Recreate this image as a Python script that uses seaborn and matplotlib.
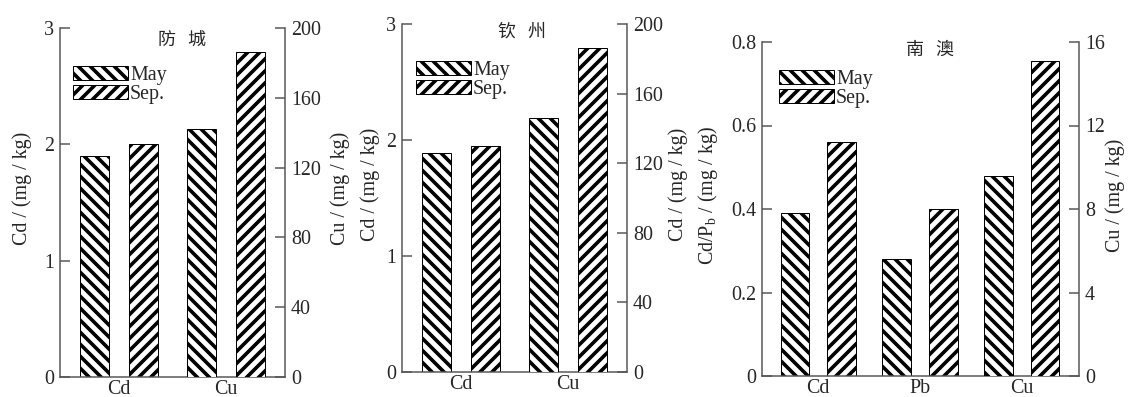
"""Cd / Pb / Cu content by site, May vs Sep., hatched twin-axis bars."""

import matplotlib

matplotlib.use("Agg")
import matplotlib.pyplot as plt
import pandas as pd
import seaborn as sns
from matplotlib.patches import Patch

# ---- data ----
months = ["May", "Sep."]

fc_elements = ["Cd", "Cu"]
fc_cd = [1.90, 2.00]
fc_cu = [142, 186]

qz_elements = ["Cd", "Cu"]
qz_cd = [1.89, 1.95]
qz_cu = [146, 186]

na_elements = ["Cd", "Pb", "Cu"]
na_cd = [0.39, 0.56]
na_pb = [0.28, 0.40]
na_cu = [9.6, 15.1]

titles = ["防   城", "钦   州", "南   澳"]
left_labels = ["Cd / (mg / kg)", "Cd / (mg / kg)", r"Cd/P$_{\rm b}$ / (mg / kg)"]
right_labels = ["Cu / (mg / kg)", "Cd / (mg / kg)", "Cu / (mg / kg)"]
left_ticks = [[0, 1, 2, 3], [0, 1, 2, 3], [0, 0.2, 0.4, 0.6, 0.8]]
left_ticklabels = [["0", "1", "2", "3"], ["0", "1", "2", "3"], ["0", "0.2", "0.4", "0.6", "0.8"]]
right_ticks = [[0, 40, 80, 120, 160, 200], [0, 40, 80, 120, 160, 200], [0, 4, 8, 12, 16]]

HATCHES = {"May": "\\\\", "Sep.": "//"}
GREY = "#555555"

sns.set_style("ticks")
plt.rcParams["font.family"] = ["Liberation Serif", "Noto Sans CJK SC"]
plt.rcParams["mathtext.fontset"] = "custom"
plt.rcParams["mathtext.rm"] = "Liberation Serif"
plt.rcParams["hatch.linewidth"] = 3.6
plt.rcParams["hatch.color"] = "black"

W, H, DPI = 1131, 397, 72
fig = plt.figure(figsize=(W / DPI, H / DPI), dpi=DPI)


def long_rows(element, values):
    return [(element, m, v) for m, v in zip(months, values)]


def frame(rows):
    return pd.DataFrame(rows, columns=["element", "month", "value"])


def draw_bars(ax, df, order):
    sns.barplot(
        data=df, x="element", y="value", hue="month", order=order, hue_order=months,
        palette={m: "white" for m in months}, saturation=1, width=0.92, gap=0.40,
        dodge=True, edgecolor="black", linewidth=1.0, errorbar=None, legend=False, ax=ax,
    )
    for container, m in zip(ax.containers, months):
        for bar in container:
            bar.set_hatch(HATCHES[m])


def panel(i, box, left_df, right_df, order, xlim, title_xy, legend_xy, lab_x):
    left, top, right, bottom = box
    ax = fig.add_axes([left / W, 1 - bottom / H, (right - left) / W, (bottom - top) / H])
    ax2 = ax.twinx()
    draw_bars(ax, left_df, order)
    draw_bars(ax2, right_df, order)

    ax.set_ylim(left_ticks[i][0], left_ticks[i][-1])
    ax2.set_ylim(right_ticks[i][0], right_ticks[i][-1])
    ax.set_yticks(left_ticks[i], left_ticklabels[i])
    ax2.set_yticks(right_ticks[i], [str(t) for t in right_ticks[i]])
    ax.set_xlim(*xlim)
    ax.set_xticks(range(len(order)), order)
    ax.set_xlabel("")
    ax2.set_xlabel("")

    ax.set_ylabel(left_labels[i], fontsize=20)
    ax2.set_ylabel(right_labels[i], fontsize=20)
    ax.yaxis.set_label_coords(lab_x[0], 0.54)
    ax2.yaxis.set_label_coords(lab_x[1], 0.54)

    for a in (ax, ax2):
        a.tick_params(axis="y", direction="in", length=10, width=1.5, color=GREY,
                      labelsize=20, pad=6)
        a.tick_params(axis="x", length=0, labelsize=20, pad=3)
        for s in a.spines.values():
            s.set_color(GREY)
            s.set_linewidth(1.5)
        a.spines["top"].set_visible(False)
    ax.spines["right"].set_visible(False)
    ax2.spines["left"].set_visible(False)
    ax2.spines["bottom"].set_visible(False)

    ax2.text(title_xy[0], title_xy[1], titles[i], transform=ax.transAxes,
             ha="center", va="center", fontsize=18, family="Noto Sans CJK SC")

    handles = [Patch(facecolor="white", edgecolor="black", linewidth=1.0,
                     hatch=HATCHES[m], label=m) for m in months]
    ax2.legend(handles=handles, loc="upper left", bbox_to_anchor=legend_xy,
               bbox_transform=ax.transAxes, frameon=False, fontsize=20,
               handlelength=2.75, handleheight=0.7, handletextpad=0.1,
               labelspacing=0.0, borderpad=0, borderaxespad=0)


panel(
    0, (60, 28, 285, 377),
    frame(long_rows("Cd", fc_cd)), frame(long_rows("Cu", fc_cu)),
    fc_elements, (-0.55, 1.55), (0.54, 0.963), (0.058, 0.89), (-0.124, 1.20),
)
panel(
    1, (402, 24, 627, 372),
    frame(long_rows("Cd", qz_cd)), frame(long_rows("Cu", qz_cu)),
    qz_elements, (-0.55, 1.55), (0.532, 0.977), (0.062, 0.893), (-0.098, 1.182),
)
panel(
    2, (762, 42, 1079, 376),
    frame(long_rows("Cd", na_cd) + long_rows("Pb", na_pb)), frame(long_rows("Cu", na_cu)),
    na_elements, (-0.55, 2.56), (0.53, 0.976), (0.054, 0.917), (-0.132, 1.082),
)

fig.savefig("out.png", dpi=DPI)
